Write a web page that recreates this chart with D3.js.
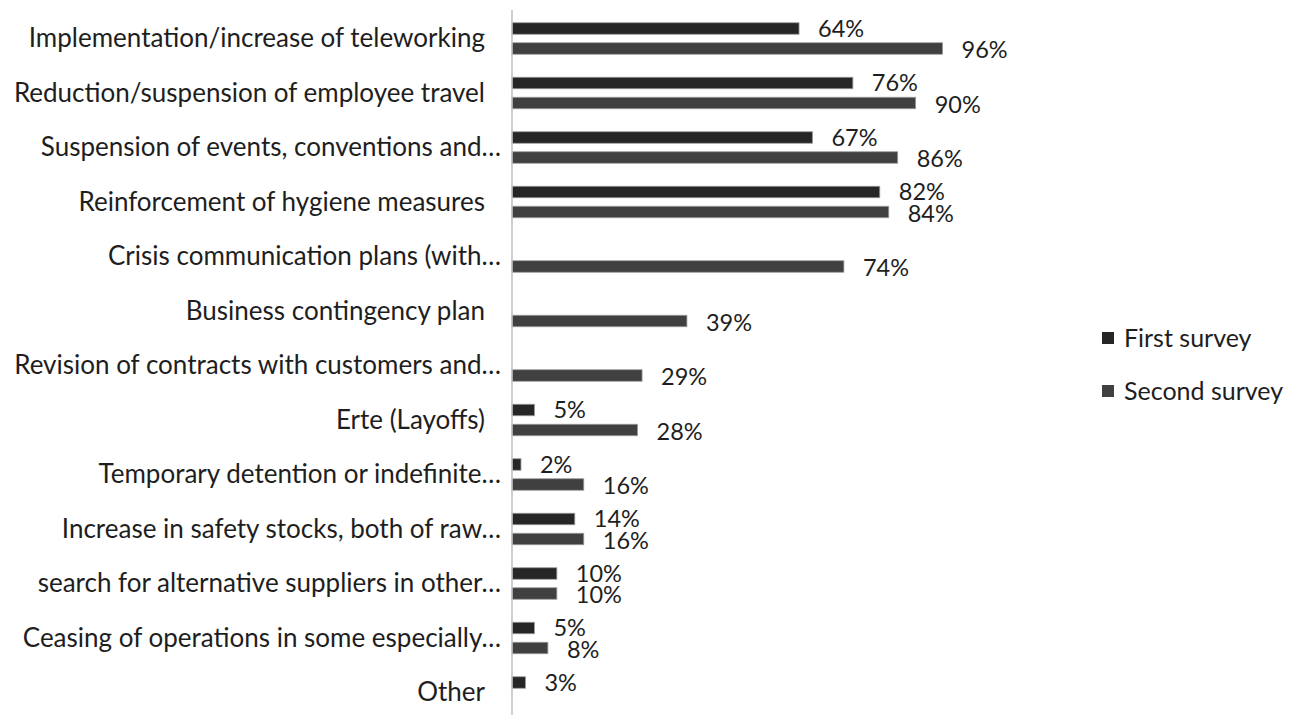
<!DOCTYPE html>
<html>
<head>
<meta charset="utf-8">
<script src="https://cdn.jsdelivr.net/npm/d3@7"></script>
<style>
  html, body { margin: 0; padding: 0; background: #fff; }
  svg { display: block; font-family: Lato, "Open Sans", sans-serif; }
</style>
</head>
<body>
<svg id="chart" width="1298" height="715"></svg>
<script>
// Measures taken by companies, share of respondents (%)
const categories = [
  "Implementation/increase of teleworking",
  "Reduction/suspension of employee travel",
  "Suspension of events, conventions and…",
  "Reinforcement of hygiene measures",
  "Crisis communication plans (with…",
  "Business contingency plan",
  "Revision of contracts with customers and…",
  "Erte (Layoffs)",
  "Temporary detention or indefinite…",
  "Increase in safety stocks, both of raw…",
  "search for alternative suppliers in other…",
  "Ceasing of operations in some especially…",
  "Other"
];
const seriesNames = ["First survey", "Second survey"];
const firstSurvey  = [64, 76, 67, 82, null, null, null, 5, 2, 14, 10, 5, 3];
const secondSurvey = [96, 90, 86, 84, 74, 39, 29, 28, 16, 16, 10, 8, null];
const seriesColors = ["#262626", "#404040"];

const svg = d3.select("#chart");
const axisX = 512;

const x = d3.scaleLinear().domain([0, 100]).range([axisX, 960.5]);
const y = d3.scaleBand().domain(categories).range([11.25, 719.75]).paddingInner(0.422).paddingOuter(0.211);
const ySub = d3.scaleBand().domain(seriesNames).range([0, y.bandwidth()]).paddingInner(0.425);

const rows = categories.map((c, i) => ({ cat: c, values: [firstSurvey[i], secondSurvey[i]] }));

// Bars
const groups = svg.append("g").selectAll("g")
  .data(rows).join("g")
  .attr("transform", d => `translate(0,${y(d.cat)})`);

groups.selectAll("rect")
  .data(d => d.values.map((v, k) => ({ v, k })).filter(e => e.v != null))
  .join("rect")
  .attr("x", x(0))
  .attr("y", e => ySub(seriesNames[e.k]))
  .attr("width", e => x(e.v) - x(0))
  .attr("height", ySub.bandwidth())
  .attr("fill", e => seriesColors[e.k])
  .attr("stroke", "#9a9a9a")
  .attr("stroke-width", 0.8);

// Value labels
groups.selectAll("text")
  .data(d => d.values.map((v, k) => ({ v, k })).filter(e => e.v != null))
  .join("text")
  .attr("x", e => x(e.v) + 19)
  .attr("y", e => ySub(seriesNames[e.k]) + ySub.bandwidth() / 2 + (e.k === 1 ? 1.5 : 0))
  .attr("dy", "0.36em")
  .attr("font-size", 23.5)
  .attr("fill", "#1e1e1e")
  .text(e => e.v + "%");

// Category axis
const axis = svg.append("g")
  .attr("transform", `translate(${axisX},0)`)
  .call(d3.axisLeft(y).tickSize(0).tickPadding(11));
axis.select(".domain").attr("stroke", "#bfbfbf").attr("stroke-width", 1.5)
  .attr("d", `M0,10V715`);
axis.selectAll(".tick text")
  .attr("font-family", "Lato, 'Open Sans', sans-serif")
  .attr("font-size", 26)
  .attr("dy", "0.33em")
  .attr("fill", "#1e1e1e")
  .attr("x", d => d.endsWith("…") ? -11 : -27);

// Legend
const legend = svg.append("g").attr("transform", "translate(1102,0)");
const legendY = [338, 391];
seriesNames.forEach((name, k) => {
  legend.append("rect")
    .attr("x", 0).attr("y", legendY[k] - 6)
    .attr("width", 12).attr("height", 12)
    .attr("fill", seriesColors[k]);
  legend.append("text")
    .attr("x", 22).attr("y", legendY[k])
    .attr("dy", "0.35em")
    .attr("font-size", 25)
    .attr("fill", "#1e1e1e")
    .text(name);
});
</script>
</body>
</html>
